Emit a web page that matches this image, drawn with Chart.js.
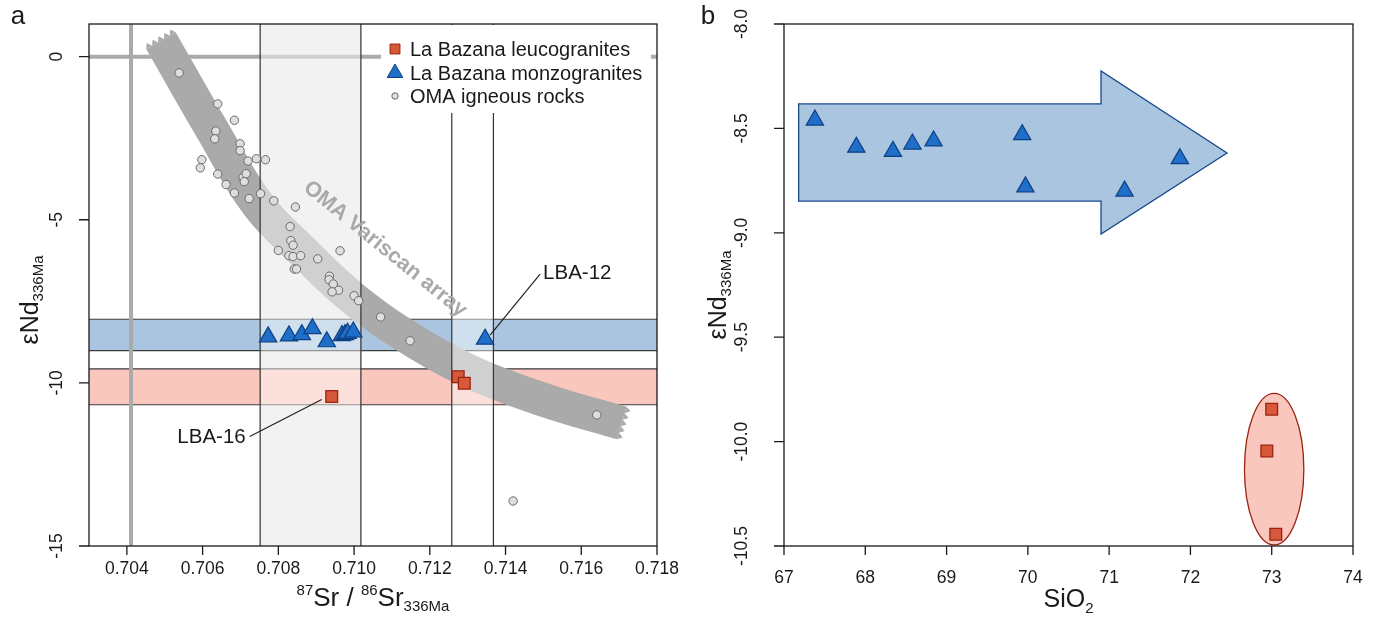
<!DOCTYPE html>
<html><head><meta charset="utf-8">
<script src="https://cdn.jsdelivr.net/npm/chart.js@4.4.0/dist/chart.umd.min.js"></script>
<style>
html,body{margin:0;padding:0;background:#fff;}
#wrap{position:relative;width:1377px;height:618px;overflow:hidden;background:#fff;}
#ca{position:absolute;left:0;top:0;}
#cb{position:absolute;left:690px;top:0;}
</style></head><body>
<div id="wrap">
<canvas id="ca" width="690" height="618"></canvas>
<canvas id="cb" width="687" height="618"></canvas>
</div>
<script>
// ---------- tick values ----------
const srTicks = [0.704, 0.706, 0.708, 0.710, 0.712, 0.714, 0.716, 0.718];
const ndTicksA = [0, -5, -10, -15];
const sio2Ticks = [67, 68, 69, 70, 71, 72, 73, 74];
const ndTicksB = [-8.0, -8.5, -9.0, -9.5, -10.0, -10.5];

// ---------- panel a data ----------
const omaSr = [0.70538,0.70640,0.70684,0.70635,0.70632,0.70699,0.70699,0.70598,0.70594,0.70720,0.70742,0.70766,0.70640,0.70707,0.70715,0.70710,0.70662,0.70684,0.70723,0.70753,0.70788,0.70845,0.70831,0.70833,0.70839,0.70800,0.70828,0.70839,0.70859,0.70904,0.70963,0.70842,0.70848,0.70935,0.70934,0.70945,0.70959,0.70942,0.71000,0.71012,0.71070,0.71148,0.71641,0.71420];
const omaNd = [-0.50,-1.45,-1.95,-2.28,-2.52,-2.67,-2.88,-3.16,-3.41,-3.20,-3.13,-3.16,-3.60,-3.70,-3.59,-3.83,-3.92,-4.18,-4.35,-4.20,-4.42,-4.61,-5.21,-5.64,-5.78,-5.94,-6.10,-6.13,-6.10,-6.20,-5.95,-6.51,-6.51,-6.73,-6.84,-6.97,-7.16,-7.21,-7.33,-7.48,-7.98,-8.71,-10.98,-13.62];
const monzoSr = [0.70773,0.70828,0.70862,0.70890,0.70928,0.70968,0.70976,0.70983,0.70998,0.71346];
const monzoNd = [-8.59,-8.56,-8.52,-8.34,-8.74,-8.55,-8.52,-8.48,-8.44,-8.66];
const leucoSr = [0.70941,0.71275,0.71291];
const leucoNd = [-10.42,-9.81,-10.01];
// OMA Variscan array centre line
const arraySr = [0.70490,0.70625,0.70746,0.70860,0.71002,0.71174,0.71332,0.71517,0.71707];
const arrayNd = [0.49,-2.24,-4.54,-5.92,-7.45,-8.83,-9.79,-10.58,-11.23];
// reference values / ranges
const srRanges = [[0.70752,0.71018],[0.71258,0.71368]];
const ndRangeMonzo = [-8.05,-9.01];
const ndRangeLeuco = [-9.57,-10.67];
const refSr = 0.70411;
const refNd = 0;

// ---------- panel b data ----------
const monzoSiO2 = [67.38,67.89,68.34,68.58,68.84,69.93,69.97,71.19,71.87];
const monzoNdB = [-8.46,-8.59,-8.61,-8.575,-8.56,-8.53,-8.78,-8.80,-8.645];
const leucoSiO2 = [73.00,72.94,73.05];
const leucoNdB = [-9.845,-10.045,-10.444];
// arrow outline (SiO2, eNd)
const arrowSiO2 = [67.18,70.90,70.90,72.45,70.90,70.90,67.18];
const arrowNd = [-8.383,-8.383,-8.225,-8.618,-9.006,-8.848,-8.848];
// ellipse around leucogranites: centre and half-axes
const ellSiO2 = [73.03, 0.365];
const ellNd = [-10.132, 0.363];

const FONT = '"Liberation Sans", Arial, Helvetica, sans-serif';
const pts = (xs, ys) => xs.map((x, i) => ({x, y: ys[i]}));

function drawRich(ctx, parts, x, y) {
  let w = 0;
  parts.forEach(p => { ctx.font = p.s + 'px ' + FONT; p.m = ctx.measureText(p.t).width; w += p.m; });
  let cx = x - w / 2;
  ctx.textAlign = 'left'; ctx.textBaseline = 'alphabetic';
  parts.forEach(p => { ctx.font = p.s + 'px ' + FONT; ctx.fillText(p.t, cx, y + p.dy); cx += p.m; });
}

function drawAxes(chart, xt, xfmt, yt, yfmt, xLabY, yLabOff) {
  const {ctx, chartArea: a} = chart;
  const xs = chart.scales.x, ys = chart.scales.y;
  ctx.save();
  ctx.strokeStyle = '#1a1a1a'; ctx.lineWidth = 1.3;
  ctx.strokeRect(a.left, a.top, a.right - a.left, a.bottom - a.top);
  ctx.beginPath();
  xt.forEach(v => { const px = xs.getPixelForValue(v); ctx.moveTo(px, a.bottom); ctx.lineTo(px, a.bottom + 9); });
  yt.forEach(v => { const py = ys.getPixelForValue(v); ctx.moveTo(a.left, py); ctx.lineTo(a.left - 10, py); });
  ctx.stroke();
  ctx.fillStyle = '#1a1a1a';
  ctx.font = '17.5px ' + FONT; ctx.textAlign = 'center'; ctx.textBaseline = 'middle';
  xt.forEach(v => ctx.fillText(xfmt(v), xs.getPixelForValue(v), xLabY));
  yt.forEach(v => {
    ctx.save(); ctx.translate(a.left - yLabOff, ys.getPixelForValue(v)); ctx.rotate(-Math.PI / 2);
    ctx.fillText(yfmt(v), 0, 0); ctx.restore();
  });
  ctx.restore();
}

function drawYTitle(ctx, x, y) {
  ctx.save(); ctx.translate(x, y); ctx.rotate(-Math.PI / 2); ctx.fillStyle = '#1a1a1a';
  drawRich(ctx, [{t:'\u03b5Nd', s:25, dy:0}, {t:'336Ma', s:15, dy:5}], 0, 9);
  ctx.restore();
}

function jaggedEnd(ctx, p0, p1, hw, color) {
  let dx = p0.x - p1.x, dy = p0.y - p1.y; const L = Math.hypot(dx, dy); dx /= L; dy /= L;
  const nx = -dy, ny = dx, teeth = 5, step = 2 * hw / teeth;
  ctx.beginPath();
  ctx.moveTo(p0.x + nx * hw, p0.y + ny * hw);
  for (let k = 0; k < teeth; k++) {
    const o1 = hw - (k + 0.5) * step, o2 = hw - (k + 1) * step;
    ctx.lineTo(p0.x + nx * o1 + dx * 5, p0.y + ny * o1 + dy * 5);
    ctx.lineTo(p0.x + nx * o2, p0.y + ny * o2);
  }
  ctx.closePath(); ctx.fillStyle = color; ctx.fill();
}

// ---------- panel a plugin ----------
const plugA = {
  id: 'plugA',
  beforeDatasetsDraw(chart) {
    const {ctx, chartArea: a} = chart;
    const X = v => chart.scales.x.getPixelForValue(v), Y = v => chart.scales.y.getPixelForValue(v);
    ctx.save();
    ctx.fillStyle = '#e7e7e7';
    ctx.fillRect(X(srRanges[0][0]), a.top, X(srRanges[0][1]) - X(srRanges[0][0]), a.bottom - a.top);
    ctx.fillStyle = 'rgb(170,197,224)';
    ctx.fillRect(a.left, Y(ndRangeMonzo[0]), a.right - a.left, Y(ndRangeMonzo[1]) - Y(ndRangeMonzo[0]));
    ctx.fillStyle = 'rgb(250,199,190)';
    ctx.fillRect(a.left, Y(ndRangeLeuco[0]), a.right - a.left, Y(ndRangeLeuco[1]) - Y(ndRangeLeuco[0]));
    ctx.strokeStyle = '#3c3c3c'; ctx.lineWidth = 1.2;
    ctx.beginPath();
    [ndRangeMonzo[0], ndRangeMonzo[1], ndRangeLeuco[0], ndRangeLeuco[1]].forEach(v => {
      ctx.moveTo(a.left, Y(v)); ctx.lineTo(a.right, Y(v));
    });
    ctx.stroke();
    ctx.strokeStyle = '#aaaaaa'; ctx.lineWidth = 4;
    ctx.beginPath();
    ctx.moveTo(a.left, Y(refNd)); ctx.lineTo(a.right, Y(refNd));
    ctx.moveTo(X(refSr), a.top); ctx.lineTo(X(refSr), a.bottom);
    ctx.stroke();
    ctx.restore();
  },
  afterDatasetDraw(chart, args) {
    if (args.index !== 3) return;
    const {ctx, chartArea: a} = chart;
    const X = v => chart.scales.x.getPixelForValue(v), Y = v => chart.scales.y.getPixelForValue(v);
    const el = args.meta.data, n = el.length;
    ctx.save();
    jaggedEnd(ctx, el[0], el[1], 17, '#aaaaaa');
    jaggedEnd(ctx, el[n - 1], el[n - 2], 17, '#aaaaaa');
    ctx.fillStyle = 'rgba(255,255,255,0.45)';
    srRanges.forEach(r => ctx.fillRect(X(r[0]), a.top, X(r[1]) - X(r[0]), a.bottom - a.top));
    ctx.strokeStyle = '#333'; ctx.lineWidth = 1.2;
    ctx.beginPath();
    srRanges.forEach(r => r.forEach(v => { ctx.moveTo(X(v), a.top); ctx.lineTo(X(v), a.bottom); }));
    ctx.stroke();
    // array label
    ctx.translate(X(0.71082), Y(-5.9)); ctx.rotate(39 * Math.PI / 180);
    ctx.fillStyle = '#a9a9a9'; ctx.font = 'bold 21.5px ' + FONT;
    ctx.textAlign = 'center'; ctx.textBaseline = 'middle';
    ctx.fillText('OMA Variscan array', 0, 0);
    ctx.restore();
  },
  afterDatasetsDraw(chart) {
    const {ctx, chartArea: a} = chart;
    const X = v => chart.scales.x.getPixelForValue(v), Y = v => chart.scales.y.getPixelForValue(v);
    ctx.save();
    // legend
    ctx.fillStyle = '#fff';
    ctx.fillRect(381, a.top + 1, a.right - 381 - 6, 88);
    const leg = [{i:0, r:7, y:49}, {i:1, r:9, y:73}, {i:2, r:3.2, y:96}];
    leg.forEach(l => {
      const ds = chart.data.datasets[l.i];
      ctx.fillStyle = ds.backgroundColor; ctx.strokeStyle = ds.borderColor; ctx.lineWidth = 1;
      Chart.helpers.drawPoint(ctx, {pointStyle: ds.pointStyle, radius: l.r, rotation: 0, borderWidth: 1}, 395, l.y);
      ctx.fillStyle = '#1a1a1a'; ctx.font = '20px ' + FONT; ctx.textAlign = 'left'; ctx.textBaseline = 'middle';
      ctx.fillText(ds.label, 410, l.y + 1);
    });
    // sample labels
    ctx.strokeStyle = '#222'; ctx.lineWidth = 1.2; ctx.fillStyle = '#1a1a1a';
    ctx.font = '20.5px ' + FONT; ctx.textBaseline = 'middle';
    const p12x = X(monzoSr[9]), p12y = Y(monzoNd[9]);
    ctx.beginPath(); ctx.moveTo(p12x + 5, p12y - 4); ctx.lineTo(p12x + 55, p12y - 65); ctx.stroke();
    ctx.textAlign = 'left'; ctx.fillText('LBA-12', p12x + 58, p12y - 66);
    const p16x = X(leucoSr[0]), p16y = Y(leucoNd[0]);
    ctx.beginPath(); ctx.moveTo(p16x - 10, p16y + 3); ctx.lineTo(p16x - 82, p16y + 40); ctx.stroke();
    ctx.textAlign = 'right'; ctx.fillText('LBA-16', p16x - 86, p16y + 41);
    ctx.restore();
    drawAxes(chart, srTicks, v => v.toFixed(3), ndTicksA, v => String(v), 569, 32);
    ctx.save(); ctx.fillStyle = '#1a1a1a';
    drawRich(ctx, [{t:'87', s:15, dy:-11}, {t:'Sr / ', s:26, dy:0}, {t:'86', s:15, dy:-11}, {t:'Sr', s:26, dy:0}, {t:'336Ma', s:15, dy:5}], (a.left + a.right) / 2, 606);
    ctx.font = '26px ' + FONT; ctx.textAlign = 'center'; ctx.textBaseline = 'middle';
    ctx.fillText('a', 18, 17);
    ctx.restore();
    drawYTitle(ctx, a.left - 60, 300);
  }
};

const chartA = new Chart(document.getElementById('ca'), {
  type: 'scatter',
  data: { datasets: [
    {label: 'La Bazana leucogranites', data: pts(leucoSr, leucoNd), pointStyle: 'rect', pointRadius: 8.3, backgroundColor: '#d8583c', borderColor: '#9a2410', borderWidth: 1.3, order: 1},
    {label: 'La Bazana monzogranites', data: pts(monzoSr, monzoNd), pointStyle: 'triangle', pointRadius: 10, backgroundColor: '#1f6fc8', borderColor: '#0e3f82', borderWidth: 1.2, order: 2},
    {label: 'OMA igneous rocks', data: pts(omaSr, omaNd), pointStyle: 'circle', pointRadius: 4.2, backgroundColor: '#dedede', borderColor: '#6a6a6a', borderWidth: 1, order: 3},
    {label: 'OMA Variscan array', type: 'line', data: pts(arraySr, arrayNd), showLine: true, borderColor: '#aaaaaa', borderWidth: 34, pointRadius: 0, tension: 0.4, borderCapStyle: 'butt', fill: false, order: 10, clip: false}
  ]},
  options: {
    responsive: false, animation: false, events: [],
    layout: {padding: {left: 89, right: 33, top: 24, bottom: 72}},
    scales: {
      x: {type: 'linear', min: 0.703, max: 0.718, display: false},
      y: {type: 'linear', min: -15, max: 1, display: false}
    },
    plugins: {legend: {display: false}, tooltip: {enabled: false}}
  },
  plugins: [plugA]
});

// ---------- panel b plugin ----------
const plugB = {
  id: 'plugB',
  beforeDatasetsDraw(chart) {
    const {ctx} = chart;
    const X = v => chart.scales.x.getPixelForValue(v), Y = v => chart.scales.y.getPixelForValue(v);
    ctx.save();
    ctx.beginPath();
    arrowSiO2.forEach((s, i) => { if (i === 0) ctx.moveTo(X(s), Y(arrowNd[i])); else ctx.lineTo(X(s), Y(arrowNd[i])); });
    ctx.closePath();
    ctx.fillStyle = 'rgb(170,197,224)'; ctx.fill();
    ctx.strokeStyle = '#17498c'; ctx.lineWidth = 1.3; ctx.stroke();
    const cx = X(ellSiO2[0]), cy = Y(ellNd[0]);
    const rx = Math.abs(X(ellSiO2[0] + ellSiO2[1]) - cx), ry = Math.abs(Y(ellNd[0] + ellNd[1]) - cy);
    ctx.beginPath(); ctx.ellipse(cx, cy, rx, ry, 0, 0, Math.PI * 2);
    ctx.fillStyle = 'rgb(250,199,190)'; ctx.fill();
    ctx.strokeStyle = '#9a2410'; ctx.lineWidth = 1.3; ctx.stroke();
    ctx.restore();
  },
  afterDatasetsDraw(chart) {
    const {ctx, chartArea: a} = chart;
    drawAxes(chart, sio2Ticks, v => String(v), ndTicksB, v => v.toFixed(1), 578, 42);
    ctx.save(); ctx.fillStyle = '#1a1a1a';
    drawRich(ctx, [{t:'SiO', s:25, dy:0}, {t:'2', s:15, dy:6}], (a.left + a.right) / 2, 607);
    ctx.font = '26px ' + FONT; ctx.textAlign = 'center'; ctx.textBaseline = 'middle';
    ctx.fillText('b', 18, 17);
    ctx.restore();
    drawYTitle(ctx, a.left - 67, 295);
  }
};

const chartB = new Chart(document.getElementById('cb'), {
  type: 'scatter',
  data: { datasets: [
    {label: 'La Bazana leucogranites', data: pts(leucoSiO2, leucoNdB), pointStyle: 'rect', pointRadius: 8.3, backgroundColor: '#d8583c', borderColor: '#9a2410', borderWidth: 1.3},
    {label: 'La Bazana monzogranites', data: pts(monzoSiO2, monzoNdB), pointStyle: 'triangle', pointRadius: 10, backgroundColor: '#1f6fc8', borderColor: '#0e3f82', borderWidth: 1.2}
  ]},
  options: {
    responsive: false, animation: false, events: [],
    layout: {padding: {left: 94, right: 24, top: 24, bottom: 72}},
    scales: {
      x: {type: 'linear', min: 67, max: 74, display: false},
      y: {type: 'linear', min: -10.5, max: -8.0, display: false}
    },
    plugins: {legend: {display: false}, tooltip: {enabled: false}}
  },
  plugins: [plugB]
});
</script>
</body></html>
